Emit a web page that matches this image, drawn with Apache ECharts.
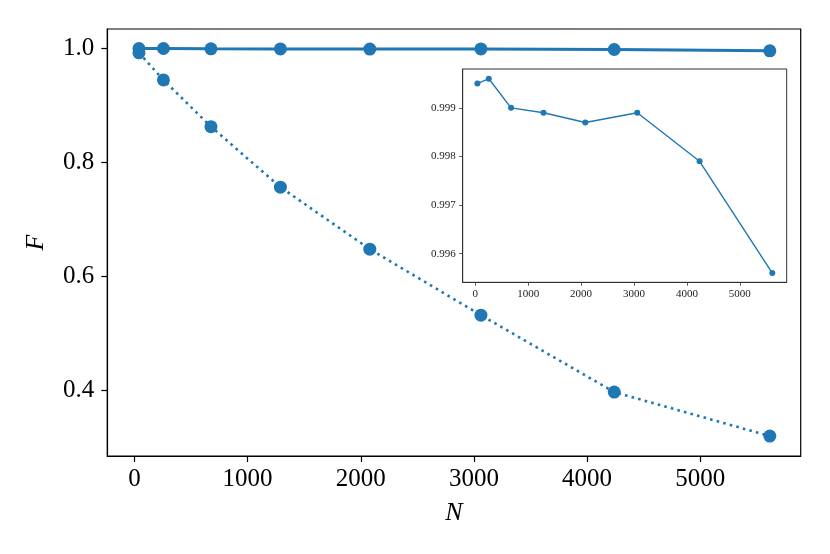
<!DOCTYPE html>
<html>
<head>
<meta charset="utf-8">
<script src="https://cdn.jsdelivr.net/npm/echarts@6/dist/echarts.min.js"></script>
<style>
  html, body { margin: 0; padding: 0; background: #fff; }
  #chart { width: 830px; height: 554px; }
</style>
</head>
<body>
<div id="chart"></div>
<script>
// 数据
const nValues = [40, 256, 676, 1290, 2080, 3062, 4240, 5615];
const fidelityTop = [0.9995, 0.9996, 0.9990, 0.9989, 0.9987, 0.9989, 0.9979, 0.9956];
const fidelityLow = [0.992, 0.9445, 0.8627, 0.7566, 0.648, 0.5324, 0.3976, 0.3205];
const xTicks = [0, 1000, 2000, 3000, 4000, 5000];
const yTicksMain = [0.4, 0.6, 0.8, 1.0];
const yTicksInset = [0.996, 0.997, 0.998, 0.999];

const blue = '#1f77b4';
const serif = '"Liberation Serif", "DejaVu Serif", serif';

function pairs(xs, ys) {
    return xs.map((x, i) => [x, ys[i]]);
}

const chart = echarts.init(document.getElementById('chart'), null, { renderer: 'canvas' });

const option = {
    backgroundColor: '#fff',
    animation: false,
    grid: [
        { left: 107.3, top: 29, right: 29.3, bottom: 98,
          show: true, borderColor: '#000', borderWidth: 1.2, backgroundColor: 'transparent' },
        { left: 462.7, top: 69, right: 43.3, bottom: 271.7,
          show: true, borderColor: '#333', borderWidth: 1, backgroundColor: '#fff' }
    ],
    xAxis: [
        {
            gridIndex: 0, type: 'value', min: -240, max: 5888,
            name: 'N', nameLocation: 'middle', nameGap: 44,
            nameTextStyle: { fontFamily: serif, fontStyle: 'italic', fontSize: 26, color: '#000' },
            axisLine: { show: true, onZero: false, lineStyle: { color: '#000', width: 1.2 } },
            axisTick: { show: true, length: 6, lineStyle: { color: '#000', width: 1.2 }, customValues: xTicks },
            axisLabel: { margin: 11, fontFamily: serif, fontSize: 25, color: '#000',
                         customValues: xTicks, formatter: v => String(v) },
            splitLine: { show: false }
        },
        {
            gridIndex: 1, type: 'value', min: -238, max: 5887,
            axisLine: { show: true, onZero: false, lineStyle: { color: '#333', width: 1 } },
            axisTick: { show: true, length: 3.5, lineStyle: { color: '#333', width: 0.8 }, customValues: xTicks },
            axisLabel: { margin: 6, fontFamily: serif, fontSize: 11, color: '#222',
                         customValues: xTicks, formatter: v => String(v) },
            splitLine: { show: false }
        }
    ],
    yAxis: [
        {
            gridIndex: 0, type: 'value', min: 0.2856, max: 1.0338,
            name: 'F', nameLocation: 'middle', nameGap: 58,
            nameTextStyle: { fontFamily: serif, fontStyle: 'italic', fontSize: 26, color: '#000' },
            axisLine: { show: true, onZero: false, lineStyle: { color: '#000', width: 1.2 } },
            axisTick: { show: true, length: 6, lineStyle: { color: '#000', width: 1.2 }, customValues: yTicksMain },
            axisLabel: { margin: 13, fontFamily: serif, fontSize: 25, color: '#000',
                         customValues: yTicksMain, formatter: v => v.toFixed(1) },
            splitLine: { show: false }
        },
        {
            gridIndex: 1, type: 'value', min: 0.99541, max: 0.99980,
            axisLine: { show: true, onZero: false, lineStyle: { color: '#333', width: 1 } },
            axisTick: { show: true, length: 3.5, lineStyle: { color: '#333', width: 0.8 }, customValues: yTicksInset },
            axisLabel: { margin: 7, fontFamily: serif, fontSize: 11, color: '#222',
                         customValues: yTicksInset, formatter: v => v.toFixed(3) },
            splitLine: { show: false }
        }
    ],
    series: [
        {
            type: 'line', xAxisIndex: 0, yAxisIndex: 0,
            data: pairs(nValues, fidelityLow),
            symbol: 'circle', symbolSize: 13,
            itemStyle: { color: blue },
            lineStyle: { color: blue, width: 2.6, type: [2.6, 4.2], cap: 'butt' },
            z: 3
        },
        {
            type: 'line', xAxisIndex: 0, yAxisIndex: 0,
            data: pairs(nValues, fidelityTop),
            symbol: 'circle', symbolSize: 13,
            itemStyle: { color: blue },
            lineStyle: { color: blue, width: 3 },
            z: 4
        },
        {
            type: 'line', xAxisIndex: 1, yAxisIndex: 1,
            data: pairs(nValues, fidelityTop),
            symbol: 'circle', symbolSize: 6,
            itemStyle: { color: blue },
            lineStyle: { color: blue, width: 1.4 },
            z: 5
        }
    ]
};

chart.setOption(option);
</script>
</body>
</html>
